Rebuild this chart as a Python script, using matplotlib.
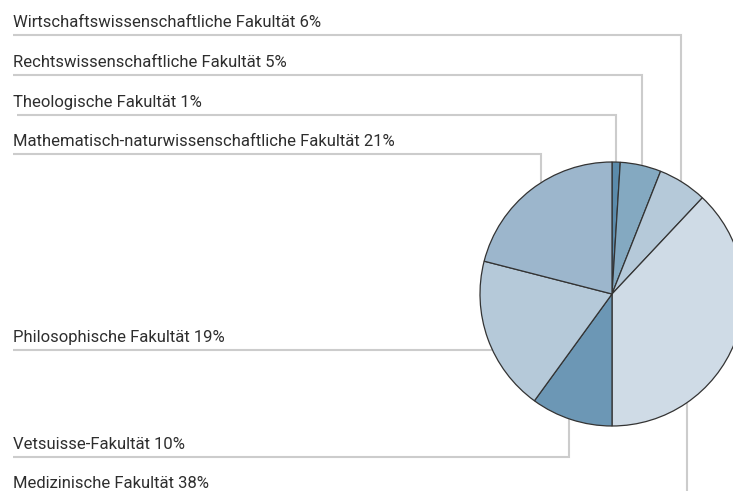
import numpy as np
import matplotlib
matplotlib.use("Agg")
import matplotlib.pyplot as plt

# Slices, clockwise from 12 o'clock
faculties = ["Theologische Fakultät",
             "Rechtswissenschaftliche Fakultät",
             "Wirtschaftswissenschaftliche Fakultät",
             "Medizinische Fakultät",
             "Vetsuisse-Fakultät",
             "Philosophische Fakultät",
             "Mathematisch-naturwissenschaftliche Fakultät"]
shares = [1, 5, 6, 38, 10, 19, 21]
colors = ["#5b8bab", "#84a9c1", "#b5c9d9", "#cfdbe6",
          "#6c97b5", "#b5c9d9", "#9cb6cc"]

# layout (pixels, y from top): label line height and where the leader hits the slice
line_y = [115, 75, 35, 496, 457, 350, 154]
line_x0 = [17, 13, 13, 13, 13, 13, 13]
anchor_frac = [0.5, 0.54, 0.47, 0.747, 0.53, 0.425, 0.57]
leader_kind = ["v", "v", "v", "v", "v", "h", "v"]

W, H = 733, 491
cx, cy, r = 612, H - 294, 132

fig = plt.figure(figsize=(W / 100, H / 100), dpi=100)
ax = fig.add_axes([0, 0, 1, 1])

ax.pie(shares, colors=colors, startangle=90, counterclock=False,
       center=(cx, cy), radius=r,
       wedgeprops=dict(edgecolor="#333333", linewidth=0.9, zorder=3))

ax.set_xlim(0, W)
ax.set_ylim(0, H)
ax.set_aspect("equal")
ax.axis("off")

bounds = np.concatenate([[0], np.cumsum(shares)]) / sum(shares) * 360
for i, name in enumerate(faculties):
    th = np.radians(bounds[i] + anchor_frac[i] * (bounds[i + 1] - bounds[i]))
    ax_x = cx + r * np.sin(th)
    ax_y = cy + r * np.cos(th)
    yl = H - line_y[i]
    if leader_kind[i] == "h":
        xs, ys = [line_x0[i], ax_x], [yl, yl]
    else:
        xs, ys = [line_x0[i], ax_x, ax_x], [yl, yl, ax_y]
    ax.plot(xs, ys, color="#cccccc", lw=1.5, solid_joinstyle="miter",
            solid_capstyle="butt", zorder=1)
    ax.text(13, yl + 8.3, f"{name} {shares[i]}%", fontsize=12,
            family="Roboto", color="#2e2e2e", va="baseline", ha="left")

fig.savefig("out.png", dpi=100)
